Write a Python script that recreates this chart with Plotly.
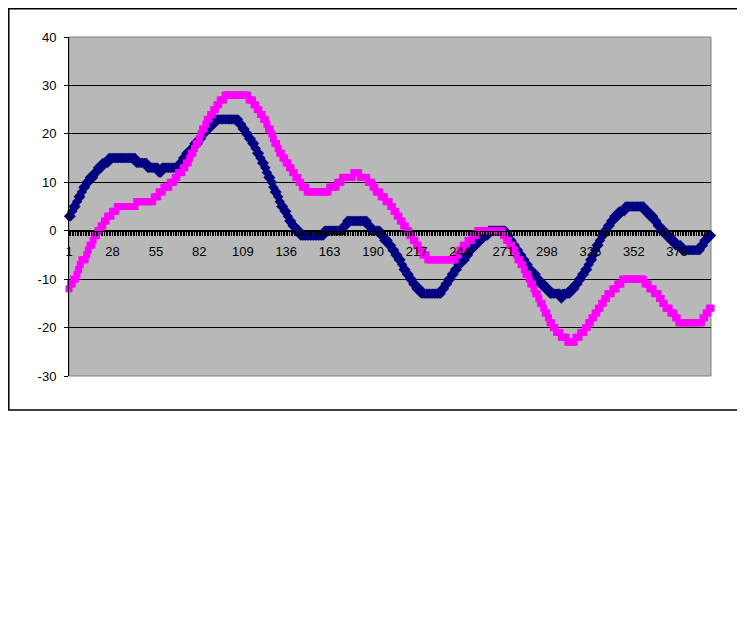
import plotly.graph_objects as go

# category numbers on the x axis (1..400), labels shown every 27th
n_points = 400
categories = list(range(1, n_points + 1))
tick_labels = [1, 28, 55, 82, 109, 136, 163, 190, 217, 244, 271, 298, 325, 352, 379]
y_ticks = [-30, -20, -10, 0, 10, 20, 30, 40]

# series 1 (navy diamonds), 20 values per row
series_1 = [
    3, 3, 4, 5, 5, 6, 7, 7, 8, 9, 9, 10, 10, 11, 11, 11, 12, 12, 13, 13,
    13, 14, 14, 14, 14, 15, 15, 15, 15, 15, 15, 15, 15, 15, 15, 15, 15, 15, 15, 15,
    15, 15, 14, 14, 14, 14, 14, 14, 14, 13, 13, 13, 13, 13, 13, 13, 12, 12, 13, 13,
    13, 13, 13, 13, 13, 13, 13, 13, 13, 14, 14, 15, 15, 16, 16, 16, 17, 17, 18, 18,
    18, 19, 19, 20, 20, 21, 21, 21, 22, 22, 22, 23, 23, 23, 23, 23, 23, 23, 23, 23,
    23, 23, 23, 23, 23, 23, 22, 22, 21, 21, 20, 20, 19, 19, 18, 18, 17, 16, 16, 15,
    14, 14, 13, 12, 11, 11, 10, 9, 8, 8, 7, 6, 5, 5, 4, 4, 3, 2, 2, 1,
    1, 0, 0, 0, -1, -1, -1, -1, -1, -1, -1, -1, -1, -1, -1, -1, -1, -1, -1, 0,
    0, 0, 0, 0, 0, 0, 0, 0, 0, 0, 0, 1, 1, 2, 2, 2, 2, 2, 2, 2,
    2, 2, 2, 2, 2, 2, 1, 1, 0, 0, 0, 0, 0, 0, -1, -1, -2, -2, -2, -3,
    -3, -4, -4, -5, -5, -6, -6, -7, -8, -8, -9, -9, -10, -10, -11, -11, -12, -12, -12, -13,
    -13, -13, -13, -13, -13, -13, -13, -13, -13, -13, -13, -13, -12, -12, -11, -11, -10, -10, -9, -9,
    -8, -8, -7, -7, -6, -6, -6, -5, -5, -4, -4, -3, -3, -3, -2, -2, -2, -1, -1, -1,
    -1, 0, 0, 0, 0, 0, 0, 0, 0, 0, 0, 0, -1, -1, -2, -2, -3, -3, -4, -4,
    -5, -5, -6, -6, -7, -7, -8, -8, -9, -9, -9, -10, -10, -11, -11, -11, -12, -12, -12, -13,
    -13, -13, -13, -13, -13, -13, -14, -13, -13, -13, -13, -13, -12, -12, -12, -11, -11, -10, -10, -9,
    -9, -8, -8, -7, -6, -6, -5, -4, -3, -3, -2, -1, -1, 0, 0, 1, 1, 2, 2, 3,
    3, 3, 4, 4, 4, 4, 5, 5, 5, 5, 5, 5, 5, 5, 5, 5, 5, 5, 4, 4,
    4, 3, 3, 3, 2, 2, 1, 1, 0, 0, 0, -1, -1, -1, -2, -2, -2, -3, -3, -3,
    -3, -4, -4, -4, -4, -4, -4, -4, -4, -4, -4, -4, -4, -3, -3, -2, -2, -1, -1, -1,
]

# series 2 (magenta squares)
series_2 = [
    -12, -11, -11, -10, -10, -9, -8, -7, -6, -6, -6, -5, -4, -3, -3, -2, -1, -1, 0, 0,
    1, 1, 2, 2, 3, 3, 3, 4, 4, 4, 5, 5, 5, 5, 5, 5, 5, 5, 5, 5,
    5, 5, 6, 6, 6, 6, 6, 6, 6, 6, 6, 6, 6, 7, 7, 7, 8, 8, 8, 9,
    9, 9, 9, 10, 10, 10, 11, 11, 12, 12, 12, 13, 13, 14, 14, 15, 16, 16, 17, 18,
    18, 19, 20, 21, 21, 22, 23, 23, 24, 24, 25, 25, 26, 26, 27, 27, 27, 28, 28, 28,
    28, 28, 28, 28, 28, 28, 28, 28, 28, 28, 28, 28, 27, 27, 27, 26, 26, 25, 25, 24,
    24, 23, 23, 22, 21, 21, 20, 19, 18, 18, 17, 16, 16, 15, 15, 14, 14, 13, 13, 12,
    12, 11, 11, 10, 10, 9, 9, 9, 8, 8, 8, 8, 8, 8, 8, 8, 8, 8, 8, 8,
    8, 8, 9, 9, 9, 9, 9, 10, 10, 10, 11, 11, 11, 11, 11, 11, 11, 12, 12, 12,
    12, 11, 11, 11, 11, 11, 10, 10, 10, 9, 9, 8, 8, 8, 7, 7, 7, 6, 6, 6,
    5, 5, 4, 4, 3, 3, 2, 2, 1, 1, 0, 0, -1, -1, -2, -2, -3, -3, -4, -4,
    -5, -5, -5, -6, -6, -6, -6, -6, -6, -6, -6, -6, -6, -6, -6, -6, -6, -6, -6, -6,
    -6, -5, -5, -4, -4, -3, -3, -3, -2, -2, -2, -1, -1, -1, 0, 0, 0, 0, 0, 0,
    0, 0, 0, 0, 0, 0, 0, 0, 0, 0, -1, -1, -2, -2, -3, -3, -4, -4, -5, -6,
    -6, -7, -7, -8, -9, -9, -10, -11, -11, -12, -13, -13, -14, -15, -15, -16, -17, -17, -18, -19,
    -19, -20, -20, -21, -21, -21, -22, -22, -22, -22, -23, -23, -23, -23, -23, -22, -22, -22, -21, -21,
    -21, -20, -20, -19, -19, -18, -18, -17, -17, -16, -16, -15, -15, -14, -14, -13, -13, -13, -12, -12,
    -12, -11, -11, -11, -10, -10, -10, -10, -10, -10, -10, -10, -10, -10, -10, -10, -10, -10, -11, -11,
    -11, -12, -12, -12, -13, -13, -13, -14, -14, -15, -15, -16, -16, -16, -17, -17, -17, -18, -18, -19,
    -19, -19, -19, -19, -19, -19, -19, -19, -19, -19, -19, -19, -19, -19, -18, -18, -17, -17, -16, -16,
]

y_min, y_max = -30, 40
font = dict(family='Liberation Sans, Arial, sans-serif', size=13, color='black')

fig = go.Figure()

fig.add_trace(go.Scatter(
    x=categories, y=series_1, mode='markers', name='Series1',
    marker=dict(symbol='diamond', size=8, color='#000080', line=dict(width=0)),
    cliponaxis=False
))
fig.add_trace(go.Scatter(
    x=categories, y=series_2, mode='markers', name='Series2',
    marker=dict(symbol='square', size=7, color='#FF00FF', line=dict(width=0)),
    cliponaxis=False
))

# plot area frame (grey) and outer chart border (black)
fig.add_shape(type='rect', xref='paper', yref='paper', x0=0, x1=1, y0=0, y1=1,
              line=dict(color='#808080', width=1), layer='below')
fig.add_shape(type='rect', xref='paper', yref='paper',
              x0=-0.0938, x1=1.0498, y0=-0.1003, y1=1.0833,
              line=dict(color='black', width=1.5))

# the page body has an 8px margin, so the figure is 8px smaller than the window
fig.update_layout(
    width=737, height=632,
    margin=dict(l=61, r=34, t=29, b=264),
    paper_bgcolor='white',
    plot_bgcolor='#b8b8b8',
    showlegend=False,
    font=font,
    xaxis=dict(
        range=[1, n_points],
        anchor='free',
        position=(0 - y_min) / (y_max - y_min),
        tickmode='array', tickvals=tick_labels, ticktext=[str(t) for t in tick_labels],
        ticks='outside', ticklen=4, tickwidth=1, tickcolor='black',
        minor=dict(dtick=1, tick0=1, ticks='outside', ticklen=4, tickwidth=1, tickcolor='black'),
        showline=True, linecolor='black', linewidth=1,
        showgrid=False, zeroline=False,
        ticklabelstandoff=5,
        tickfont=font,
    ),
    yaxis=dict(
        range=[y_min, y_max],
        tickmode='array', tickvals=y_ticks, ticktext=[str(t) for t in y_ticks],
        ticks='outside', ticklen=4, tickwidth=1, tickcolor='black',
        showline=True, linecolor='black', linewidth=1,
        showgrid=True, gridcolor='black', gridwidth=1,
        zeroline=False,
        ticklabelstandoff=5,
        tickfont=font,
    ),
)

fig.write_html("out.html")
